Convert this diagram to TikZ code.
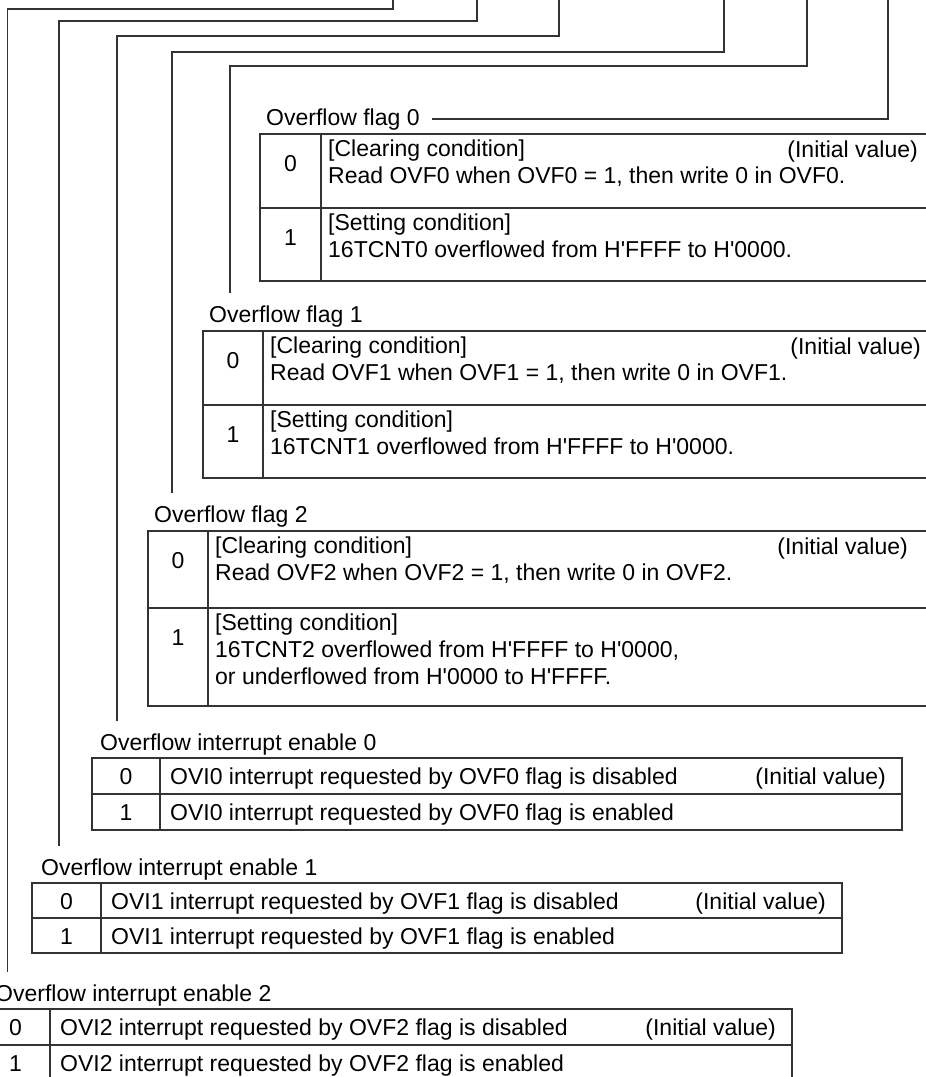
\documentclass[tikz,border=0pt]{standalone}
\usepackage{fontspec}
\setmainfont{Liberation Sans}[Ligatures=TeXOff]
\usepackage{tikz}
\definecolor{LineGray}{HTML}{333333}
\tikzset{
  conn/.style={draw=LineGray, line width=1.3pt},
  tcell/.style={draw=LineGray, line width=1.3pt, anchor=north west,
    inner sep=0pt, outer sep=0pt},
  lbl/.style={anchor=base west, inner sep=0pt, font=\fontsize{23}{27}\selectfont},
  txt/.style={anchor=north west, align=left, inner sep=0pt, font=\fontsize{23}{27}\selectfont},
  ini/.style={anchor=base east, inner sep=0pt, font=\fontsize{23}{27}\selectfont},
  bit/.style={anchor=base, inner sep=0pt, font=\fontsize{23}{27}\selectfont},
}

\begin{document}
\begin{tikzpicture}[x=1pt,y=-1pt]
  \clip (0,0) rectangle (926,1077);

  % Overflow flag 0
  \node[tcell, minimum width=61, minimum height=74] (f0v0) at (260,134) {};
  \node[tcell, minimum width=619, minimum height=74] (f0d0) at (f0v0.north east) {};
  \node[tcell, minimum width=61, minimum height=73] (f0v1) at (f0v0.south west) {};
  \node[tcell, minimum width=619, minimum height=73] (f0d1) at (f0v1.north east) {};
  \node[lbl] (l0) at ([xshift=6,yshift=9]f0v0.north west) {Overflow flag 0};
  \node[bit] (f0n0) at ([yshift=-37]f0v0.north) {0};
  \node[bit] (f0n1) at ([yshift=-37]f0v1.north) {1};
  \node[txt] (f0t0) at ([xshift=7,yshift=-6]f0d0.north west)
    {[Clearing condition]\\Read OVF0 when OVF0 = 1, then write 0 in OVF0.};
  \node[ini] (f0i) at ([xshift=-22,yshift=-23]f0d0.north east) {(Initial value)};
  \node[txt] (f0t1) at ([xshift=7,yshift=-6]f0d1.north west)
    {[Setting condition]\\16TCNT0 overflowed from H'FFFF to H'0000.};

  % Overflow flag 1
  \node[tcell, minimum width=60, minimum height=74] (f1v0) at (203,331) {};
  \node[tcell, minimum width=677, minimum height=74] (f1d0) at (f1v0.north east) {};
  \node[tcell, minimum width=60, minimum height=73] (f1v1) at (f1v0.south west) {};
  \node[tcell, minimum width=677, minimum height=73] (f1d1) at (f1v1.north east) {};
  \node[lbl] (l1) at ([xshift=6,yshift=9]f1v0.north west) {Overflow flag 1};
  \node[bit] (f1n0) at ([yshift=-37]f1v0.north) {0};
  \node[bit] (f1n1) at ([yshift=-37]f1v1.north) {1};
  \node[txt] (f1t0) at ([xshift=7,yshift=-6]f1d0.north west)
    {[Clearing condition]\\Read OVF1 when OVF1 = 1, then write 0 in OVF1.};
  \node[ini] (f1i) at ([xshift=-19,yshift=-23]f1d0.north east) {(Initial value)};
  \node[txt] (f1t1) at ([xshift=7,yshift=-6]f1d1.north west)
    {[Setting condition]\\16TCNT1 overflowed from H'FFFF to H'0000.};

  % Overflow flag 2
  \node[tcell, minimum width=60, minimum height=77] (f2v0) at (148,531) {};
  \node[tcell, minimum width=732, minimum height=77] (f2d0) at (f2v0.north east) {};
  \node[tcell, minimum width=60, minimum height=98] (f2v1) at (f2v0.south west) {};
  \node[tcell, minimum width=732, minimum height=98] (f2d1) at (f2v1.north east) {};
  \node[lbl] (l2) at ([xshift=6,yshift=9]f2v0.north west) {Overflow flag 2};
  \node[bit] (f2n0) at ([yshift=-37]f2v0.north) {0};
  \node[bit] (f2n1) at ([yshift=-37]f2v1.north) {1};
  \node[txt] (f2t0) at ([xshift=7,yshift=-6]f2d0.north west)
    {[Clearing condition]\\Read OVF2 when OVF2 = 1, then write 0 in OVF2.};
  \node[ini] (f2i) at ([xshift=-32,yshift=-23]f2d0.north east) {(Initial value)};
  \node[txt] (f2t1) at ([xshift=7,yshift=-6]f2d1.north west)
    {[Setting condition]\\16TCNT2 overflowed from H'FFFF to H'0000,\\or underflowed from H'0000 to H'FFFF.};

  % Overflow interrupt enable 0
  \node[tcell, minimum width=68, minimum height=36] (e0v0) at (92,758) {};
  \node[tcell, minimum width=742, minimum height=36] (e0d0) at (e0v0.north east) {};
  \node[tcell, minimum width=68, minimum height=36] (e0v1) at (e0v0.south west) {};
  \node[tcell, minimum width=742, minimum height=36] (e0d1) at (e0v1.north east) {};
  \node[lbl] (l3) at ([xshift=8,yshift=8]e0v0.north west) {Overflow interrupt enable 0};
  \node[bit] (e0n0) at ([yshift=-26]e0v0.north) {0};
  \node[bit] (e0n1) at ([yshift=-26]e0v1.north) {1};
  \node[lbl] (e0t0) at ([xshift=10,yshift=-26]e0d0.north west)
    {OVI0 interrupt requested by OVF0 flag is disabled};
  \node[ini] (e0i) at ([xshift=-16,yshift=-26]e0d0.north east) {(Initial value)};
  \node[lbl] (e0t1) at ([xshift=10,yshift=-26]e0d1.north west)
    {OVI0 interrupt requested by OVF0 flag is enabled};

  % Overflow interrupt enable 1
  \node[tcell, minimum width=69, minimum height=35] (e1v0) at (32,883) {};
  \node[tcell, minimum width=741, minimum height=35] (e1d0) at (e1v0.north east) {};
  \node[tcell, minimum width=69, minimum height=35] (e1v1) at (e1v0.south west) {};
  \node[tcell, minimum width=741, minimum height=35] (e1d1) at (e1v1.north east) {};
  \node[lbl] (l4) at ([xshift=9,yshift=8]e1v0.north west) {Overflow interrupt enable 1};
  \node[bit] (e1n0) at ([yshift=-26]e1v0.north) {0};
  \node[bit] (e1n1) at ([yshift=-26]e1v1.north) {1};
  \node[lbl] (e1t0) at ([xshift=10,yshift=-26]e1d0.north west)
    {OVI1 interrupt requested by OVF1 flag is disabled};
  \node[ini] (e1i) at ([xshift=-16,yshift=-26]e1d0.north east) {(Initial value)};
  \node[lbl] (e1t1) at ([xshift=10,yshift=-26]e1d1.north west)
    {OVI1 interrupt requested by OVF1 flag is enabled};

  % Overflow interrupt enable 2
  \node[tcell, minimum width=69, minimum height=36] (e2v0) at (-19,1009) {};
  \node[tcell, minimum width=742, minimum height=36] (e2d0) at (e2v0.north east) {};
  \node[tcell, minimum width=69, minimum height=36] (e2v1) at (e2v0.south west) {};
  \node[tcell, minimum width=742, minimum height=36] (e2d1) at (e2v1.north east) {};
  \node[lbl] (l5) at ([xshift=14,yshift=8]e2v0.north west) {Overflow interrupt enable 2};
  \node[bit] (e2n0) at ([yshift=-26]e2v0.north) {0};
  \node[bit] (e2n1) at ([yshift=-26]e2v1.north) {1};
  \node[lbl] (e2t0) at ([xshift=10,yshift=-26]e2d0.north west)
    {OVI2 interrupt requested by OVF2 flag is disabled};
  \node[ini] (e2i) at ([xshift=-16,yshift=-26]e2d0.north east) {(Initial value)};
  \node[lbl] (e2t1) at ([xshift=10,yshift=-26]e2d1.north west)
    {OVI2 interrupt requested by OVF2 flag is enabled};

  % bit leads from the register above
  \coordinate (b0) at (888,0);
  \coordinate (b1) at (807,0);  \coordinate (k1) at (230,66);
  \coordinate (b2) at (724,0);  \coordinate (k2) at (172,52);
  \coordinate (b3) at (559,0);  \coordinate (k3) at (117,36);
  \coordinate (b4) at (477,0);  \coordinate (k4) at (59,21);
  \coordinate (b5) at (393,0);  \coordinate (k5) at (7.5,9);
  \draw[conn] (b0) |- ([xshift=12]l0.east);
  \draw[conn] (b1) |- (k1) -- ([yshift=12]k1 |- l1.north);
  \draw[conn] (b2) |- (k2) -- ([yshift=12]k2 |- l2.north);
  \draw[conn] (b3) |- (k3) -- ([yshift=12]k3 |- l3.north);
  \draw[conn] (b4) |- (k4) -- ([yshift=12]k4 |- l4.north);
  \draw[conn] (b5) |- (k5) -- ([yshift=12]k5 |- l5.north);
\end{tikzpicture}
\end{document}
